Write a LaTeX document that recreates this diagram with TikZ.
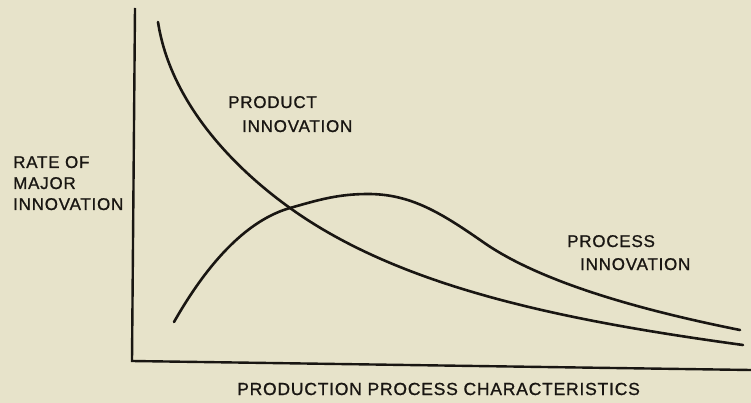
\documentclass[tikz,border=0pt]{standalone}
\usepackage{fontspec}
\setmainfont{Liberation Sans}[LetterSpace=4.5,FakeBold=1]
\definecolor{paper}{RGB}{231,227,202}
\definecolor{ink}{RGB}{25,22,18}
\begin{document}
\begin{tikzpicture}[x=1pt,y=-1pt,
  curve/.style={draw=ink,line width=2.6pt,line cap=round},
  axis/.style={draw=ink,line width=2.4pt},
  lbl/.style={anchor=base west,inner sep=0pt,text=ink,font=\fontsize{17}{20}\selectfont}]
\fill[paper] (0,0) rectangle (751,403);
\useasboundingbox (0,0) rectangle (751,403);
% axes
\coordinate (ytop) at (135,8);
\coordinate (origin) at (132,361);
\coordinate (xend) at (751,370);
\draw[axis] (ytop) -- (origin) -- (xend);
% product innovation curve
\coordinate (p0) at (158,22);
\coordinate (cross) at (290,208);
\coordinate (p2) at (743,345);
\draw[curve] (p0) .. controls (170,100) and (230,165) .. (cross)
  .. controls (400,287) and (560,320) .. (p2);
% process innovation curve
\coordinate (q0) at (174,322);
\coordinate (peak) at (368,194);
\coordinate (q3) at (483,242);
\coordinate (q4) at (740,330);
\draw[curve] (q0) .. controls (215,250) and (255,218) .. (cross)
  .. controls (318,200) and (338,194) .. (peak)
  .. controls (410,194) and (440,212) .. (q3)
  .. controls (540,282) and (640,310) .. (q4);
% labels
\node[lbl] (prod1) at (228,108) {PRODUCT};
\node[lbl] (prod2) at (242,132) {INNOVATION};
\node[lbl] (rate1) at (13,168) {RATE OF};
\node[lbl] (rate2) at (13,189) {MAJOR};
\node[lbl] (rate3) at (13,210) {INNOVATION};
\node[lbl] (proc1) at (567,247) {PROCESS};
\node[lbl] (proc2) at (580,270) {INNOVATION};
\node[lbl,font=\fontsize{17.5}{20}\selectfont] (xlab) at (237,395) {PRODUCTION PROCESS CHARACTERISTICS};
\end{tikzpicture}
\end{document}
